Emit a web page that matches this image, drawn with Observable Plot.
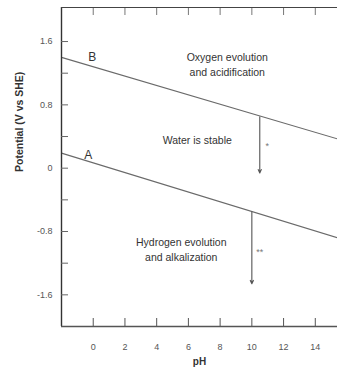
<!DOCTYPE html>
<html>
<head>
<meta charset="utf-8">
<script src="https://cdn.jsdelivr.net/npm/d3@7"></script>
<script src="https://cdn.jsdelivr.net/npm/@observablehq/plot@0.6"></script>
<style>
  html, body { margin: 0; padding: 0; background: #fff; }
  #chart { width: 337px; height: 369px; }
  svg { font-family: "Liberation Sans", Arial, sans-serif; }
</style>
</head>
<body>
<div id="chart"></div>
<script>
// Water stability lines (pH, potential V vs SHE)
const lineA_pH = [-2, 15.4];
const lineA_E = [0.19, -0.88];
const lineB_pH = [-2, 15.4];
const lineB_E = [1.40, 0.37];

// Vertical arrows
const arrow_pH = [10.5, 10.0];
const arrow_top = [0.65, -0.55];
const arrow_bottom = [-0.06, -1.46];

// Tick values
const xTicks = [0, 2, 4, 6, 8, 10, 12, 14];
const yTicksMajor = [-1.6, -0.8, 0, 0.8, 1.6];
const yTicksMinor = [-1.6, -1.2, -0.8, -0.4, 0, 0.4, 0.8, 1.2, 1.6];

// Annotations (text, pH, E)
const regionTexts = ["Oxygen evolution\nand acidification", "Water is stable", "Hydrogen evolution\nand alkalization"];
const regionPH = [8.45, 6.56, 5.55];
const regionE = [1.32, 0.37, -1.015];
const lineLabels = ["B", "A"];
const lineLabelPH = [-0.06, -0.32];
const lineLabelE = [1.40, 0.16];
const starTexts = ["*", "**"];
const starPH = [10.97, 10.5];
const starE = [0.28, -1.06];

const lines = [
  ...lineA_pH.map((p, i) => ({series: "A", pH: p, E: lineA_E[i]})),
  ...lineB_pH.map((p, i) => ({series: "B", pH: p, E: lineB_E[i]}))
];
const arrows = arrow_pH.map((p, i) => ({pH: p, y1: arrow_top[i], y2: arrow_bottom[i]}));
const regions = regionTexts.map((t, i) => ({t, pH: regionPH[i], E: regionE[i]}));
const labels = lineLabels.map((t, i) => ({t, pH: lineLabelPH[i], E: lineLabelE[i]}));
const stars = starTexts.map((t, i) => ({t, pH: starPH[i], E: starE[i]}));

const xDomain = [-2, 15.4];
const yDomain = [-2, 2.03];
const fmt = d => d === 0 ? "0" : d.toFixed(1);

const chart = Plot.plot({
  width: 337,
  height: 369,
  marginLeft: 61,
  marginRight: 0,
  marginTop: 7,
  marginBottom: 43,
  x: {domain: xDomain},
  y: {domain: yDomain},
  style: {fontFamily: "Liberation Sans, Arial, sans-serif", background: "#fff"},
  marks: [
    // lines
    Plot.line(lines, {x: "pH", y: "E", z: "series", stroke: "#6a6a6a", strokeWidth: 1.1}),
    // arrows
    Plot.arrow(arrows, {x1: "pH", x2: "pH", y1: "y1", y2: "y2", stroke: "#555", strokeWidth: 1.1, headLength: 5, headAngle: 50}),
    // region texts
    Plot.text(regions, {x: "pH", y: "E", text: "t", fontSize: 10.5, fill: "#333", lineHeight: 1.45}),
    Plot.text(labels, {x: "pH", y: "E", text: "t", fontSize: 12, fill: "#333"}),
    Plot.text(stars, {x: "pH", y: "E", text: "t", fontSize: 9, fill: "#777"}),
    // frame lines
    Plot.ruleX([xDomain[0]], {stroke: "#333", strokeWidth: 1.4}),
    Plot.ruleY([yDomain[0]], {stroke: "#555", strokeWidth: 1.4}),
    Plot.ruleY([yDomain[1]], {stroke: "#444", strokeWidth: 1.2}),
    // y ticks (inward) and labels
    Plot.axisY({ticks: yTicksMinor, tickSize: 7, dx: 7, tickFormat: () => "", stroke: "#666", label: null}),
    Plot.axisY({ticks: yTicksMajor, tickSize: 0, tickPadding: 9, tickFormat: fmt, fontSize: 9, fill: "#555", label: null}),
    // x ticks (inward, top and bottom) and labels
    Plot.axisX({anchor: "bottom", ticks: xTicks, tickSize: 8, dy: -8, tickFormat: () => "", stroke: "#555", label: null}),
    Plot.axisX({anchor: "top", ticks: xTicks, tickSize: 7, dy: 7, tickFormat: () => "", stroke: "#777", label: null}),
    Plot.axisX({anchor: "bottom", ticks: xTicks, tickSize: 0, tickPadding: 17, fontSize: 9, fill: "#555", label: null}),
    // axis titles
    Plot.text(["pH"], {frameAnchor: "bottom", dy: 38, text: d => d, fontSize: 10, fontWeight: "bold", fill: "#333"}),
    Plot.text(["Potential (V vs SHE)"], {frameAnchor: "left", rotate: -90, dx: -42, dy: 5, text: d => d, fontSize: 10.5, fontWeight: "bold", fill: "#333"})
  ]
});
document.getElementById("chart").appendChild(chart);
</script>
</body>
</html>
